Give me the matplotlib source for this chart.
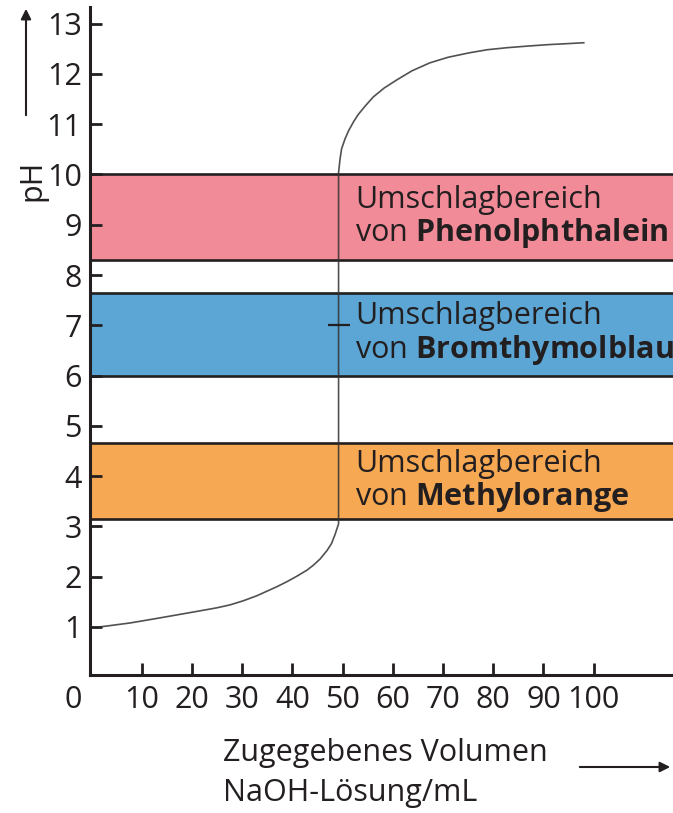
import matplotlib
matplotlib.use("Agg")
import matplotlib.pyplot as plt

plt.rcParams['font.family'] = ['Open Sans', 'DejaVu Sans']
plt.rcParams['mathtext.fontset'] = 'custom'
plt.rcParams['mathtext.rm'] = 'Open Sans'
plt.rcParams['mathtext.bf'] = 'Open Sans:bold'
plt.rcParams['mathtext.it'] = 'Open Sans:italic'

# ---- data ----
volume_ml = [1.5, 2.35, 7.7, 13.0, 17.0, 21.0, 24.9, 27.6, 30.2, 32.9, 34.9, 36.9,
             38.9, 40.9, 42.9, 44.2, 45.5, 46.9, 47.8, 48.5, 49.2,
             49.2, 49.5, 49.8, 50.5, 51.2, 52.2, 53.1, 54.5, 56.1, 58.3, 60.8,
             63.8, 67.4, 71.0, 75.3, 78.8, 82.7, 86.5, 90.7, 94.5, 98.2]
ph_values = [1.0, 1.01, 1.08, 1.17, 1.24, 1.31, 1.38, 1.44, 1.52, 1.62, 1.71, 1.80,
             1.90, 2.01, 2.13, 2.23, 2.35, 2.52, 2.66, 2.84, 3.05,
             10.04, 10.31, 10.51, 10.71, 10.87, 11.05, 11.19, 11.36, 11.54, 11.72, 11.88,
             12.06, 12.22, 12.33, 12.42, 12.48, 12.52, 12.55, 12.58, 12.60, 12.62]
equivalence_point = (49.2, 7.0)

indicators = ['Phenolphthalein', 'Bromthymolblau', 'Methylorange']
range_low = [8.3, 6.0, 3.15]
range_high = [10.0, 7.65, 4.65]
band_colors = ['#F28B98', '#5BA6D5', '#F7A852']

x_ticks = [10, 20, 30, 40, 50, 60, 70, 80, 90, 100]
y_ticks = [1, 2, 3, 4, 5, 6, 7, 8, 9, 10, 11, 12, 13]

TEXT = '#231f20'
W, H = 673, 813

def fpx(x, y):
    return (x / W, 1 - y / H)

fig = plt.figure(figsize=(W / 100, H / 100), dpi=100)
ax = fig.add_axes([90 / W, 138 / H, 1 - 90 / W, (806 - 138) / H])
ax.set_xlim(-0.3, 115.8)
ax.set_ylim(0.045, 13.33)

for s in ['top', 'right']:
    ax.spines[s].set_visible(False)
for s in ['left', 'bottom']:
    ax.spines[s].set_linewidth(2.2)
    ax.spines[s].set_color(TEXT)
    ax.spines[s].set_zorder(6)

ax.set_xticks(x_ticks)
ax.set_yticks(y_ticks)
ax.tick_params(direction='in', length=8.5, width=2.0, color=TEXT,
               labelsize=22, labelcolor=TEXT, pad=6)
ax.tick_params(axis='x', pad=7)

# bands
for name, lo, hi, col in zip(indicators, range_low, range_high, band_colors):
    ax.axhspan(lo, hi, xmin=0, xmax=1, facecolor=col, edgecolor='none', zorder=1)
    ax.axhline(lo, color=TEXT, lw=1.9, zorder=2)
    ax.axhline(hi, color=TEXT, lw=1.9, zorder=2)
    ax.text(52.5, (lo + hi) / 2, 'Umschlagbereich\nvon $\\mathbf{' + name + '}$',
            ha='left', va='center', fontsize=22, color=TEXT, linespacing=1.05,
            zorder=4)

# curve
ax.plot(volume_ml, ph_values, color='#333333', lw=1.2, alpha=0.85, zorder=3,
        solid_capstyle='butt', solid_joinstyle='round')
ax.plot([equivalence_point[0]], [equivalence_point[1]], marker='_', markersize=16,
        mew=1.6, color=TEXT, zorder=3)

# "0" label at origin
fig.text(*fpx(73, 700), '0', ha='center', va='center', fontsize=22, color=TEXT)

# y label with arrow
fig.text(*fpx(32, 180), 'pH', rotation=90, ha='center', va='center',
         fontsize=22, color=TEXT)
fig.add_artist(matplotlib.patches.FancyArrowPatch(
    fpx(26, 118), fpx(26, 6), transform=fig.transFigure,
    arrowstyle='-|>,head_length=6,head_width=3', color=TEXT, lw=1.5))

# x label with arrow
fig.text(*fpx(223, 773), 'Zugegebenes Volumen\nNaOH-Lösung/mL', ha='left',
         va='center', fontsize=22, color=TEXT, linespacing=1.42)
fig.add_artist(matplotlib.patches.FancyArrowPatch(
    fpx(577, 767), fpx(673, 767), transform=fig.transFigure,
    arrowstyle='-|>,head_length=6,head_width=3', color=TEXT, lw=1.5))

fig.savefig('out.png', dpi=100)
